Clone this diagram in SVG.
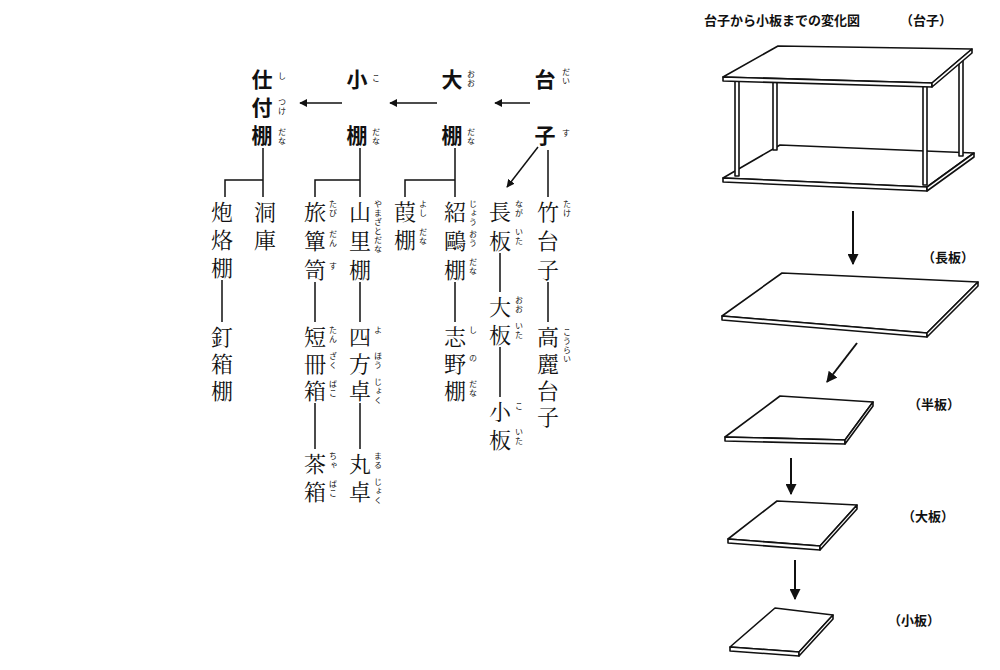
<svg xmlns="http://www.w3.org/2000/svg" width="1000" height="670" viewBox="0 0 1000 670">
<style>
text{font-family:"Noto Sans CJK JP","Noto Sans CJK SC",sans-serif;fill:#111}
.h{font-size:21px;font-weight:bold;text-anchor:middle;dominant-baseline:central}
.m{font-size:22px;text-anchor:middle;dominant-baseline:central;font-family:"Noto Serif CJK JP","Noto Sans CJK JP",serif}
.f{font-size:8px;writing-mode:vertical-rl;letter-spacing:1px}
.l{fill:none;stroke:#111;stroke-width:1.5}
.a{fill:none;stroke:#111;stroke-width:2}
.d{fill:#fff;stroke:#111;stroke-width:1.6;stroke-linejoin:round}
.t{font-size:13px;font-weight:bold}
</style>
<defs>
<marker id="ah" viewBox="0 0 10 10" refX="9" refY="5" markerWidth="8" markerHeight="8" markerUnits="userSpaceOnUse" orient="auto"><path d="M0,0L10,5L0,10z" fill="#111"/></marker>
<marker id="ah2" viewBox="0 0 10 10" refX="9" refY="5" markerWidth="11" markerHeight="11" markerUnits="userSpaceOnUse" orient="auto"><path d="M0,0L10,5L0,10z" fill="#111"/></marker>
</defs>
<rect width="1000" height="670" fill="#fff"/>
<g id="connectors">
<path class="l" d="M530,103H495" marker-end="url(#ah)"/>
<path class="l" d="M437,103H390" marker-end="url(#ah)"/>
<path class="l" d="M342,103H300" marker-end="url(#ah)"/>
<path class="l" d="M538,147L507,187" marker-end="url(#ah)"/>
<path class="l" d="M548,150V197M548,282V322M500,253V292M500,347V397"/>
<path class="l" d="M455,148V197M405,197V180H455M455,282V322"/>
<path class="l" d="M360,148V197M315,197V180H360M360,282V322M360,403V449M315,282V322M315,403V449"/>
<path class="l" d="M263,148V197M225,197V180H263M222,280V322"/>
<path class="a" d="M853,211V264" marker-end="url(#ah2)"/>
<path class="a" d="M857,343L827,382" marker-end="url(#ah2)"/>
<path class="a" d="M791,458V494" marker-end="url(#ah2)"/>
<path class="a" d="M795,560V599" marker-end="url(#ah2)"/>
</g>
<g id="daisu-h"><text class="h" x="545" y="78">台</text><text class="h" x="545" y="134">子</text><text class="f" x="566" y="68">だい</text><text class="f" x="566" y="129">す</text></g>
<g id="oodana-h"><text class="h" x="452" y="78">大</text><text class="h" x="452" y="134">棚</text><text class="f" x="471" y="70">おお</text><text class="f" x="471" y="128">だな</text></g>
<g id="kodana-h"><text class="h" x="357" y="78">小</text><text class="h" x="357" y="134">棚</text><text class="f" x="376" y="74">こ</text><text class="f" x="376" y="128">だな</text></g>
<g id="shitsuke-h"><text class="h" x="262" y="78">仕</text><text class="h" x="262" y="106">付</text><text class="h" x="262" y="134">棚</text><text class="f" x="282" y="72">し</text><text class="f" x="282" y="98">つけ</text><text class="f" x="282" y="128">だな</text></g>
<g id="takedaisu"><text class="m" x="548" y="210">竹</text><text class="m" x="548" y="239">台</text><text class="m" x="548" y="268">子</text><text class="f" x="567" y="200">たけ</text></g>
<g id="kouraidaisu"><text class="m" x="548" y="335">高</text><text class="m" x="548" y="362">麗</text><text class="m" x="548" y="389">台</text><text class="m" x="548" y="415">子</text><text class="f" x="567" y="328">こうらい</text></g>
<g id="nagaita"><text class="m" x="500" y="210">長</text><text class="m" x="500" y="239">板</text><text class="f" x="519" y="200">なが</text><text class="f" x="519" y="228">いた</text></g>
<g id="ooita"><text class="m" x="500" y="305">大</text><text class="m" x="500" y="333">板</text><text class="f" x="519" y="296">おお</text><text class="f" x="519" y="322">いた</text></g>
<g id="koita"><text class="m" x="500" y="410">小</text><text class="m" x="500" y="438">板</text><text class="f" x="519" y="402">こ</text><text class="f" x="519" y="428">いた</text></g>
<g id="jououdana"><text class="m" x="455" y="210">紹</text><text class="m" x="455" y="239">鷗</text><text class="m" x="455" y="268">棚</text><text class="f" x="473" y="200">じょう</text><text class="f" x="473" y="230">おう</text><text class="f" x="473" y="258">だな</text></g>
<g id="yoshidana"><text class="m" x="405" y="210">葭</text><text class="m" x="405" y="238">棚</text><text class="f" x="423" y="200">よし</text><text class="f" x="423" y="228">だな</text></g>
<g id="shinodana"><text class="m" x="455" y="335">志</text><text class="m" x="455" y="362">野</text><text class="m" x="455" y="389">棚</text><text class="f" x="473" y="326">し</text><text class="f" x="473" y="354">の</text><text class="f" x="473" y="380">だな</text></g>
<g id="yamazatodana"><text class="m" x="360" y="210">山</text><text class="m" x="360" y="239">里</text><text class="m" x="360" y="268">棚</text><text class="f" x="378" y="200">やまざとだな</text></g>
<g id="tabidansu"><text class="m" x="315" y="210">旅</text><text class="m" x="315" y="239">簞</text><text class="m" x="315" y="268">笥</text><text class="f" x="333" y="200">たび</text><text class="f" x="333" y="230">だん</text><text class="f" x="333" y="262">す</text></g>
<g id="yohoujoku"><text class="m" x="360" y="335">四</text><text class="m" x="360" y="362">方</text><text class="m" x="360" y="389">卓</text><text class="f" x="378" y="326">よ</text><text class="f" x="378" y="352">ほう</text><text class="f" x="378" y="378">じょく</text></g>
<g id="marujoku"><text class="m" x="360" y="462">丸</text><text class="m" x="360" y="490">卓</text><text class="f" x="378" y="452">まる</text><text class="f" x="378" y="478">じょく</text></g>
<g id="tanzakubako"><text class="m" x="315" y="335">短</text><text class="m" x="315" y="362">冊</text><text class="m" x="315" y="389">箱</text><text class="f" x="333" y="326">たん</text><text class="f" x="333" y="352">ざく</text><text class="f" x="333" y="380">ばこ</text></g>
<g id="chabako"><text class="m" x="315" y="462">茶</text><text class="m" x="315" y="490">箱</text><text class="f" x="333" y="452">ちゃ</text><text class="f" x="333" y="480">ばこ</text></g>
<g id="douko"><text class="m" x="265" y="210">洞</text><text class="m" x="265" y="238">庫</text></g>
<g id="horokudana"><text class="m" x="222" y="210">炮</text><text class="m" x="222" y="238">烙</text><text class="m" x="222" y="266">棚</text></g>
<g id="kugibakodana"><text class="m" x="222" y="335">釘</text><text class="m" x="222" y="362">箱</text><text class="m" x="222" y="389">棚</text></g>
<g id="title"><text class="t" x="704" y="25">台子から小板までの変化図</text><text class="t" x="900" y="25">（台子）</text></g>
<g id="daisu-drawing">
<path class="d" d="M723,178L780,145L974,153L927,187Z"/>
<path class="d" d="M723,178L927,187L927,191L723,182Z"/>
<path class="d" d="M927,187L974,153L974,157L927,191Z"/>
<rect class="d" x="735" y="80" width="4" height="96"/>
<rect class="d" x="773" y="80" width="4" height="70"/>
<rect class="d" x="923" y="85" width="4" height="100"/>
<rect class="d" x="959" y="60" width="4" height="96"/>
<path class="d" d="M723,77L778,46L972,49L932,83Z"/>
<path class="d" d="M723,77L932,83L932,87L723,81Z"/>
<path class="d" d="M932,83L972,49L972,53L932,87Z"/>
</g>
<g id="nagaita-drawing"><path class="d" d="M722,316L782,273L978,282L927,333Z"/><path class="d" d="M722,316L927,333L927,337L722,320Z"/><path class="d" d="M927,333L978,282L978,286L927,337Z"/><text class="t" x="922" y="262">（長板）</text></g>
<g id="hanita-drawing"><path class="d" d="M725,437L780,396L873,402L845,440Z"/><path class="d" d="M725,437L845,440L845,444L725,441Z"/><path class="d" d="M845,440L873,402L873,406L845,444Z"/><text class="t" x="908" y="409">（半板）</text></g>
<g id="ooita-drawing"><path class="d" d="M728,539L777,501L857,505L820,546Z"/><path class="d" d="M728,539L820,546L820,550L728,543Z"/><path class="d" d="M820,546L857,505L857,509L820,550Z"/><text class="t" x="902" y="521">（大板）</text></g>
<g id="koita-drawing"><path class="d" d="M730,647L775,608L833,615L799,652Z"/><path class="d" d="M730,647L799,652L799,656L730,651Z"/><path class="d" d="M799,652L833,615L833,619L799,656Z"/><text class="t" x="888" y="625">（小板）</text></g>
</svg>
